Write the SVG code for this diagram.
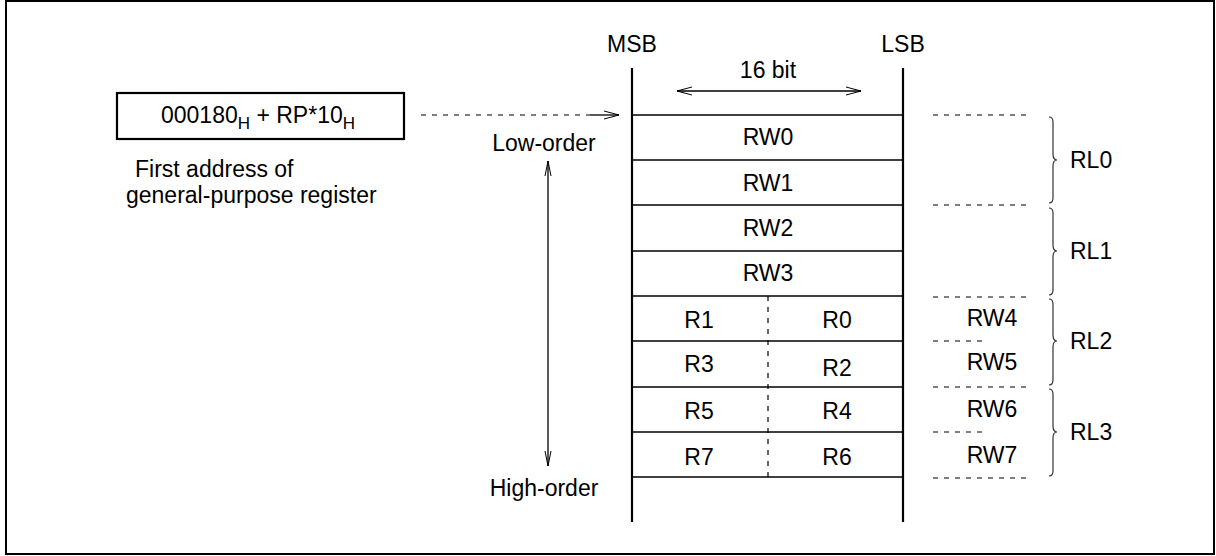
<svg xmlns="http://www.w3.org/2000/svg" width="1216" height="556" viewBox="0 0 1216 556">
<style>
text{font-family:"Liberation Sans",Arial,sans-serif;font-size:23px;fill:#000}
.c{text-anchor:middle}
.ln{stroke:#000;stroke-width:1.3;fill:none}
.thick{stroke:#000;stroke-width:2.2;fill:none}
.dash{stroke:#000;stroke-width:1.2;stroke-dasharray:5 6;fill:none}
.brace{stroke:#333;stroke-width:1.2;fill:none}
.head{stroke:#000;stroke-width:1;fill:none}
</style>
<rect x="6" y="1" width="1208" height="553" fill="#fff" stroke="#000" stroke-width="2"/>
<g id="address-box">
<rect x="117" y="93" width="287" height="46" class="thick"/>
<text class="c" x="258" y="123">000180<tspan font-size="17" dy="6">H</tspan><tspan dy="-6"> + RP*10</tspan><tspan font-size="17" dy="6">H</tspan></text>
</g>
<g id="caption">
<text x="135" y="177">First address of</text>
<text x="126" y="203">general-purpose register</text>
</g>
<g id="order-labels">
<text class="c" x="544" y="151">Low-order</text>
<text class="c" x="544" y="496">High-order</text>
</g>
<g id="register-block">
<text class="c" x="632" y="52">MSB</text>
<text class="c" x="903" y="52">LSB</text>
<text class="c" x="768" y="78">16 bit</text>
<line x1="632" y1="68" x2="632" y2="522" class="thick"/>
<line x1="903" y1="68" x2="903" y2="522" class="thick"/>
<g class="ln">
<line x1="632" y1="115" x2="903" y2="115"/>
<line x1="632" y1="160" x2="903" y2="160"/>
<line x1="632" y1="205" x2="903" y2="205"/>
<line x1="632" y1="251" x2="903" y2="251"/>
<line x1="632" y1="296" x2="903" y2="296"/>
<line x1="632" y1="341" x2="903" y2="341"/>
<line x1="632" y1="387" x2="903" y2="387"/>
<line x1="632" y1="432" x2="903" y2="432"/>
<line x1="632" y1="477" x2="903" y2="477"/>
</g>
<line x1="768" y1="296" x2="768" y2="477" class="dash"/>
<text class="c" x="768" y="145">RW0</text>
<text class="c" x="768" y="191">RW1</text>
<text class="c" x="768" y="236">RW2</text>
<text class="c" x="768" y="281">RW3</text>
<text class="c" x="699" y="328">R1</text>
<text class="c" x="837" y="328">R0</text>
<text class="c" x="699" y="372">R3</text>
<text class="c" x="837" y="376">R2</text>
<text class="c" x="699" y="419">R5</text>
<text class="c" x="837" y="419">R4</text>
<text class="c" x="699" y="465">R7</text>
<text class="c" x="837" y="465">R6</text>
</g>
<g id="word-labels">
<text class="c" x="992" y="326">RW4</text>
<text class="c" x="992" y="370">RW5</text>
<text class="c" x="992" y="417">RW6</text>
<text class="c" x="992" y="463">RW7</text>
</g>
<g id="long-labels">
<text x="1070" y="168">RL0</text>
<text x="1070" y="259">RL1</text>
<text x="1070" y="349">RL2</text>
<text x="1070" y="440">RL3</text>
</g>
<g id="connectors">
<line x1="421" y1="115" x2="590" y2="115" class="dash"/>
<line x1="590" y1="115" x2="619" y2="115" class="ln"/>
<polyline points="604,111 619,115 604,119" class="head"/>
<line x1="677" y1="91" x2="861" y2="91" class="ln"/>
<polyline points="692,87 677,91 692,95" class="head"/>
<polyline points="846,87 861,91 846,95" class="head"/>
<line x1="548" y1="161" x2="548" y2="466" class="ln"/>
<polyline points="545,176 548,161 551,176" class="head"/>
<polyline points="545,451 548,466 551,451" class="head"/>
<g class="dash">
<line x1="933" y1="115" x2="1030" y2="115"/>
<line x1="933" y1="205" x2="1030" y2="205"/>
<line x1="933" y1="297" x2="1030" y2="297"/>
<line x1="933" y1="341" x2="986" y2="341"/>
<line x1="933" y1="387" x2="1030" y2="387"/>
<line x1="933" y1="432" x2="986" y2="432"/>
<line x1="933" y1="478" x2="1030" y2="478"/>
</g>
<g class="brace">
<path d="M1049,117 Q1053,117 1053,122 L1053,154 Q1053,160 1057,160 Q1053,160 1053,166 L1053,198 Q1053,203 1049,203"/>
<path d="M1049,208 Q1053,208 1053,213 L1053,245 Q1053,251 1057,251 Q1053,251 1053,257 L1053,290 Q1053,295 1049,295"/>
<path d="M1049,299 Q1053,299 1053,304 L1053,335 Q1053,341 1057,341 Q1053,341 1053,347 L1053,380 Q1053,385 1049,385"/>
<path d="M1049,389 Q1053,389 1053,394 L1053,426 Q1053,432 1057,432 Q1053,432 1053,438 L1053,471 Q1053,476 1049,476"/>
</g>
</g>
</svg>
